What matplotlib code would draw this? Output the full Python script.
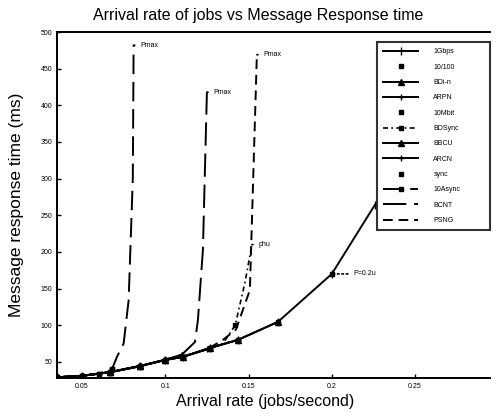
import numpy as np
import matplotlib.pyplot as plt

plt.rcParams['font.family'] = ['Liberation Sans', 'DejaVu Sans']

# arrival rate (jobs/s) and response time (ms) per configuration
rate_main = [0.035, 0.05, 0.0667, 0.085, 0.1, 0.1106, 0.1268, 0.1436, 0.1676, 0.2, 0.2258]
resp_main = [29, 31, 36, 44.5, 52.7, 56.8, 69, 80, 104.5, 170, 264]

rate_a = [0.035, 0.05, 0.06, 0.068, 0.071, 0.075, 0.078, 0.0805, 0.081]
resp_a = [29, 31, 34, 40, 57, 75, 134, 300, 482]

rate_b = [0.035, 0.05, 0.067, 0.085, 0.1, 0.11, 0.1178, 0.1196, 0.1226, 0.125]
resp_b = [29, 31, 36, 44, 53, 60, 77, 107, 203, 418]

rate_c = [0.035, 0.05, 0.067, 0.085, 0.1, 0.11, 0.125, 0.1346, 0.1424, 0.1466, 0.1508, 0.155]
resp_c = [29, 31, 36, 44.5, 52.7, 57, 67, 80, 94, 121, 148, 469]

rate_d = [0.035, 0.05, 0.067, 0.085, 0.1, 0.11, 0.125, 0.1346, 0.142, 0.148, 0.152]
resp_d = [29, 31, 36, 44.5, 52.7, 57, 67, 75, 100, 160, 210]

labels = ['1Gbps', '10/100', 'BDi-n', 'ARPN', '10Mbit', 'BDSync',
          'BBCU', 'ARCN', 'sync', '10Async', 'BCNT', 'PSNG']

xticks = [0.05, 0.1, 0.15, 0.2, 0.25]
yticks = [50, 100, 150, 200, 250, 300, 350, 400, 450, 500]

fig = plt.figure(figsize=(4.98, 4.13), dpi=100)
ax = fig.add_axes([0.1145, 0.0847, 0.8695, 0.8378])

k = dict(color='black', lw=1.4, ms=4)
ax.plot(rate_main, resp_main, '-', marker='|', ms=6, label=labels[0], color='black', lw=1.4)
ax.plot(rate_main[:-1], resp_main[:-1], ls='none', marker='s', label=labels[1], color='black', ms=3)
ax.plot(rate_main[:-2], resp_main[:-2], '-', marker='^', label=labels[2], **k)
ax.plot(rate_main[:-3], resp_main[:-3], '-', marker='+', label=labels[3], **k)
ax.plot(rate_a[:4], resp_a[:4], ls='none', marker='s', label=labels[4], color='black', ms=3)
ax.plot(rate_d, resp_d, ls=(0, (3, 2, 1, 2)), marker='s', markevery=[8], label=labels[5], color='black', lw=1.2, ms=3)
ax.plot(rate_b[:6], resp_b[:6], '-', marker='^', label=labels[6], **k)
ax.plot(rate_c[:7], resp_c[:7], '-', marker='+', label=labels[7], **k)
ax.plot(rate_b[:5], resp_b[:5], ls='none', marker='s', label=labels[8], color='black', ms=3)
ax.plot(rate_a, resp_a, ls=(0, (10, 4)), marker='s', markevery=[2, 3], label=labels[9], color='black', lw=1.4, ms=3)
ax.plot(rate_b, resp_b, ls=(0, (12, 4)), label=labels[10], color='black', lw=1.4)
ax.plot(rate_c, resp_c, ls=(0, (5, 3)), label=labels[11], color='black', lw=1.4)

# saturation notes at the curve ends
for x, y, t in [(rate_a[-1], resp_a[-1], 'Pmax'), (rate_b[-1], resp_b[-1], 'Pmax'),
                (rate_c[-1], resp_c[-1], 'Pmax'), (rate_d[-1], resp_d[-1], 'phu')]:
    ax.annotate(t, xy=(x, y), xytext=(x + 0.004, y), fontsize=5, va='center',
                arrowprops=dict(arrowstyle='-', color='black', lw=1.2))
ax.annotate('P=0.2u', xy=(rate_main[-2], resp_main[-2]), xytext=(0.213, resp_main[-2]),
            fontsize=5, va='center',
            arrowprops=dict(arrowstyle='-', color='black', lw=1.2, ls=':'))

ax.set_xlim(0.035, 0.295)
ax.set_ylim(28, 500)
ax.set_xticks(xticks)
ax.set_yticks(yticks)
ax.set_xticklabels([str(v) for v in xticks], fontsize=5)
ax.set_yticklabels([str(v) for v in yticks], fontsize=5)
ax.tick_params(direction='in', length=3, width=1)
for s in ['left', 'bottom', 'top']:
    ax.spines[s].set_linewidth(1.4)
ax.spines['right'].set_visible(False)

ax.set_title('Arrival rate of jobs vs Message Response time', fontsize=11.5, pad=9, x=0.465)
ax.set_xlabel('Arrival rate (jobs/second)', fontsize=11.5, labelpad=1)
ax.xaxis.set_label_coords(0.48, -0.045)
ax.set_ylabel('Message response time (ms)', fontsize=12.5, labelpad=12)

leg = ax.legend(loc='upper left', bbox_to_anchor=(0.739, 0.4335, 0.261, 0.5375),
                mode='expand', fontsize=5, frameon=True, fancybox=False,
                handlelength=5, labelspacing=1.2, borderpad=0.9,
                handletextpad=2.2, borderaxespad=0)
leg.get_frame().set_edgecolor('black')
leg.get_frame().set_linewidth(1.5)

fig.savefig('out.png', dpi=100)
